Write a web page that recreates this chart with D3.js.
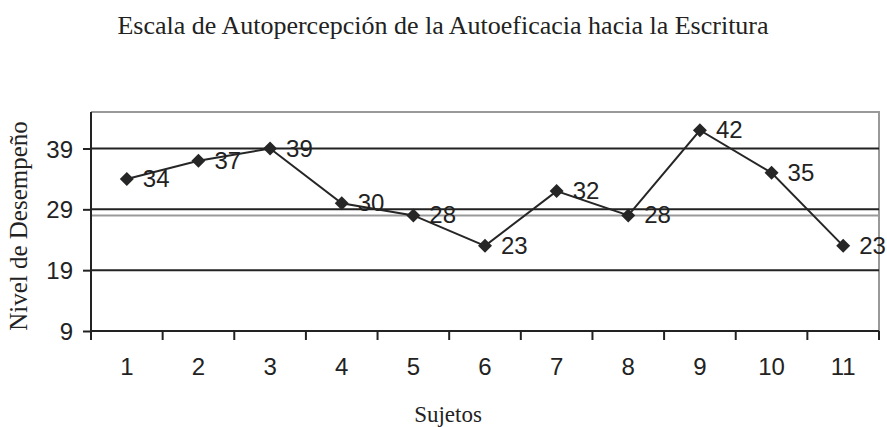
<!DOCTYPE html>
<html><head><meta charset="utf-8">
<script src="https://cdn.jsdelivr.net/npm/d3@7"></script>
<style>body{margin:0;background:#fff}</style>
</head><body>
<svg id="c" width="887" height="427"></svg>
<script>
const subjects = ["1","2","3","4","5","6","7","8","9","10","11"];
const values = [34,37,39,30,28,23,32,28,42,35,23];
const yTicks = [9,19,29,39];
const refLine = 28;

const svg = d3.select("#c");
const L=91, R=879, T=112, B=331;
const SANS = "Liberation Sans, Arial, sans-serif";
const SERIF = "Liberation Serif, Times New Roman, serif";
const x = d3.scaleBand().domain(subjects).range([L,R]);
const y = d3.scaleLinear().domain([9,45]).range([B,T]);

// plot border (gray)
svg.append("path").attr("d",`M${L},${T}H${R}V${B}`).attr("fill","none").attr("stroke","#999").attr("stroke-width",2);

// gridlines
svg.append("g").selectAll("line").data(yTicks.filter(d=>d>9)).join("line")
  .attr("x1",L).attr("x2",R).attr("y1",d=>y(d)).attr("y2",d=>y(d))
  .attr("stroke","#222").attr("stroke-width",2);
// reference line
svg.append("line").attr("x1",L).attr("x2",R).attr("y1",y(refLine)).attr("y2",y(refLine))
  .attr("stroke","#999").attr("stroke-width",2);

// y axis
const ya = svg.append("g").attr("transform",`translate(${L},0)`)
  .call(d3.axisLeft(y).tickValues(yTicks).tickSize(8).tickPadding(10));
ya.select(".domain").attr("stroke","#222").attr("stroke-width",2).attr("d",`M0,${T}V${B}`);
ya.selectAll(".tick line").attr("stroke","#222").attr("stroke-width",2);
ya.selectAll("text").attr("font-family",SANS).attr("font-size",24).attr("fill","#222").attr("dy","0.36em");

// x axis
const xa = svg.append("g").attr("transform",`translate(0,${B})`)
  .call(d3.axisBottom(x).tickSize(0));
xa.select(".domain").attr("stroke","#222").attr("stroke-width",2).attr("d",`M${L},0H${R}`);
xa.selectAll("text").attr("font-family",SANS).attr("font-size",24).attr("fill","#222")
  .attr("y",44).attr("dy",null);
// ticks between categories
const bounds = subjects.map(d=>x(d)).concat([R]);
xa.append("g").selectAll("line").data(bounds).join("line")
  .attr("x1",d=>d).attr("x2",d=>d).attr("y1",0).attr("y2",9)
  .attr("stroke","#222").attr("stroke-width",2);

const cx = d=>x(d)+x.bandwidth()/2;
// line
svg.append("path").datum(values)
  .attr("d", d3.line().x((d,i)=>cx(subjects[i])).y(d=>y(d)))
  .attr("fill","none").attr("stroke","#262626").attr("stroke-width",2);
// markers
svg.append("g").selectAll("path").data(values).join("path")
  .attr("transform",(d,i)=>`translate(${cx(subjects[i])},${y(d)})`)
  .attr("d","M0,-7L7,0L0,7L-7,0Z").attr("fill","#262626");
// labels
svg.append("g").selectAll("text").data(values).join("text")
  .attr("x",(d,i)=>cx(subjects[i])+16).attr("y",d=>y(d)+8)
  .attr("font-family",SANS).attr("font-size",24).attr("fill","#222")
  .text(d=>d);

// titles
svg.append("text").attr("x",443).attr("y",34).attr("text-anchor","middle")
  .attr("font-family",SERIF).attr("font-size",26).attr("fill","#222")
  .text("Escala de Autopercepción de la Autoeficacia hacia la Escritura");
svg.append("text").attr("x",448).attr("y",422).attr("text-anchor","middle")
  .attr("font-family",SERIF).attr("font-size",23).attr("fill","#222")
  .text("Sujetos");
svg.append("text").attr("transform","translate(27,226) rotate(-90)").attr("text-anchor","middle")
  .attr("font-family",SERIF).attr("font-size",25).attr("fill","#222")
  .text("Nivel de Desempeño");
</script>
</body></html>
